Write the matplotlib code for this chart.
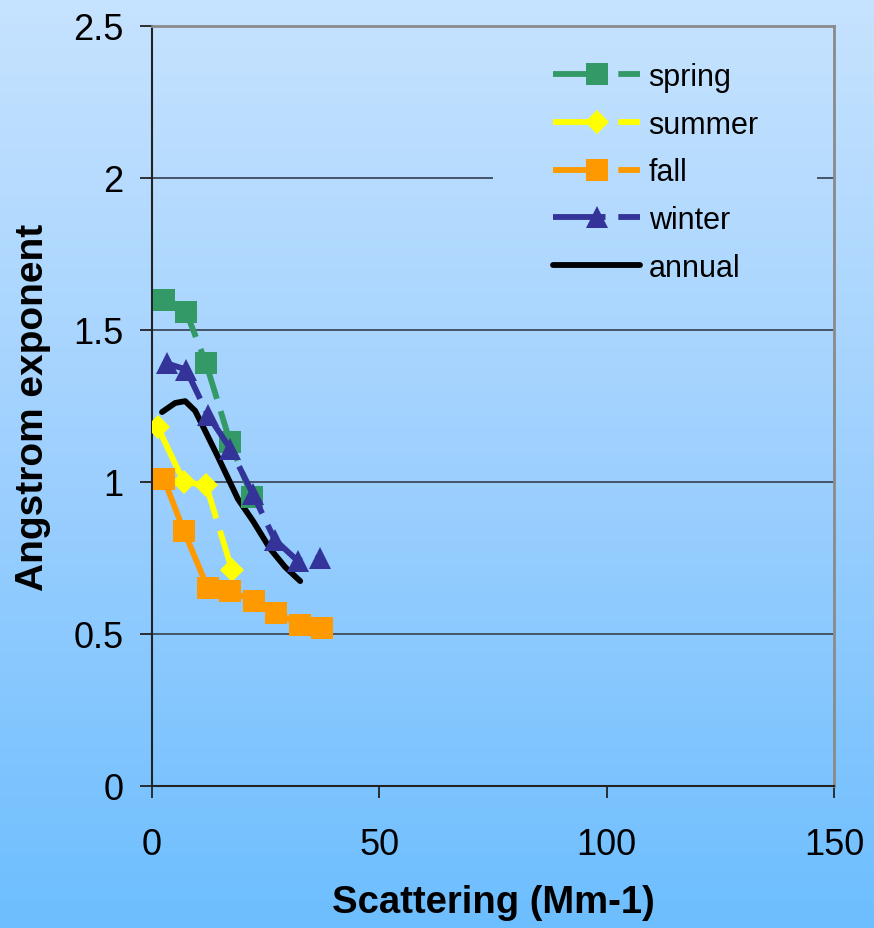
import matplotlib
matplotlib.use("Agg")
import matplotlib.pyplot as plt
import numpy as np
from matplotlib.colors import LinearSegmentedColormap

plt.rcParams['font.family'] = ['Liberation Sans', 'DejaVu Sans']

# ---- data ----
spring_x = [2.6, 7.5, 11.9, 17.2, 22.0]
spring_y = [1.60, 1.56, 1.39, 1.13, 0.95]
summer_x = [1.3, 7.0, 11.9, 17.6]
summer_y = [1.18, 1.00, 0.99, 0.71]
fall_x = [2.6, 7.0, 12.3, 17.2, 22.4, 27.3, 32.5, 37.4]
fall_y = [1.01, 0.84, 0.65, 0.64, 0.61, 0.57, 0.53, 0.52]
winter_x = [3.3, 7.5, 12.3, 17.2, 22.2, 27.0, 32.1, 36.9]
winter_y = [1.39, 1.37, 1.22, 1.11, 0.96, 0.81, 0.74, 0.75]
annual_x = [2.2, 5.1, 7.3, 9.5, 11.7, 14.3, 18.9, 22.2, 26.0, 29.3, 32.6]
annual_y = [1.230, 1.260, 1.266, 1.234, 1.168, 1.089, 0.944, 0.872, 0.780, 0.720, 0.674]

x_ticks = [0, 50, 100, 150]
y_ticks = [0, 0.5, 1, 1.5, 2, 2.5]

W, H = 874, 929
fig = plt.figure(figsize=(W / 100, H / 100), dpi=100)

# gradient background
bg = fig.add_axes([0, 0, 1, 1], zorder=-10)
cmap = LinearSegmentedColormap.from_list("bg", ["#C6E3FE", "#9ED0FE", "#6DBEFE"])
grad = np.linspace(0, 1, 256).reshape(-1, 1)
bg.imshow(grad, aspect='auto', cmap=cmap, extent=[0, 1, 0, 1], origin='upper')
bg.set_axis_off()

ax = fig.add_axes([152 / W, 1 - 787 / H, (834 - 152) / W, (787 - 27) / H])
ax.set_facecolor('none')
ax.set_xlim(0, 150)
ax.set_ylim(0, 2.5)

# gridlines (y=2 gridline broken behind the legend)
grid_c = '#46546A'
for yv in y_ticks[1:-1]:
    if yv == 2:
        ax.axhline(yv, xmin=0, xmax=(492 - 152) / 682, color=grid_c, lw=1.4, zorder=1)
        ax.axhline(yv, xmin=(818 - 152) / 682, xmax=1, color=grid_c, lw=1.4, zorder=1)
    else:
        ax.axhline(yv, color=grid_c, lw=1.4, zorder=1)

lw = 4.2
dash = (9, 2.2)
ax.plot(annual_x, annual_y, color='black', lw=4.2, solid_capstyle='round',
        solid_joinstyle='round', label='annual', zorder=3)
ax.plot(spring_x, spring_y, color='#339966', lw=lw, dashes=dash, marker='s',
        markersize=16, markeredgewidth=0, label='spring', zorder=4)
ax.plot(summer_x, summer_y, color='#FFFF00', lw=lw, dashes=dash, marker='D',
        markersize=12, markeredgewidth=0, label='summer', zorder=4)
ax.plot(fall_x, fall_y, color='#FF9900', lw=lw, dashes=dash, marker='s',
        markersize=16, markeredgewidth=0, label='fall', zorder=4)
ax.plot(winter_x, winter_y, color='#333399', lw=lw, dashes=dash, marker='^',
        markersize=16, markeredgewidth=0, label='winter', zorder=5)

# spines
for s in ['left', 'bottom']:
    ax.spines[s].set_color('#222222')
    ax.spines[s].set_linewidth(1.5)
for s in ['top', 'right']:
    ax.spines[s].set_color('#8A8A8A')
    ax.spines[s].set_linewidth(2)

ax.set_xticks(x_ticks)
ax.set_yticks(y_ticks)
ax.set_yticklabels([('%g' % v) for v in y_ticks])
ax.tick_params(axis='both', direction='out', length=8.6, width=1.3, colors='#222222',
               labelsize=26, labelcolor='black')
ax.tick_params(axis='y', pad=12)
ax.tick_params(axis='x', pad=21)

ax.set_xlabel('Scattering (Mm-1)', fontsize=27.5, fontweight='bold', labelpad=16)
ax.set_ylabel('Angstrom exponent', fontsize=28, fontweight='bold', labelpad=16)

handles, labels = ax.get_legend_handles_labels()
order = [1, 2, 3, 4, 0]
leg = fig.legend([handles[i] for i in order], [labels[i] for i in order],
                 loc='upper left', bbox_to_anchor=(553 / W, 1 - 63 / H),
                 frameon=False, fontsize=22, borderpad=0, borderaxespad=0,
                 labelspacing=0.58, handlelength=2.85, handletextpad=0.28,
                 numpoints=1)

fig.savefig('out.png', dpi=100)
